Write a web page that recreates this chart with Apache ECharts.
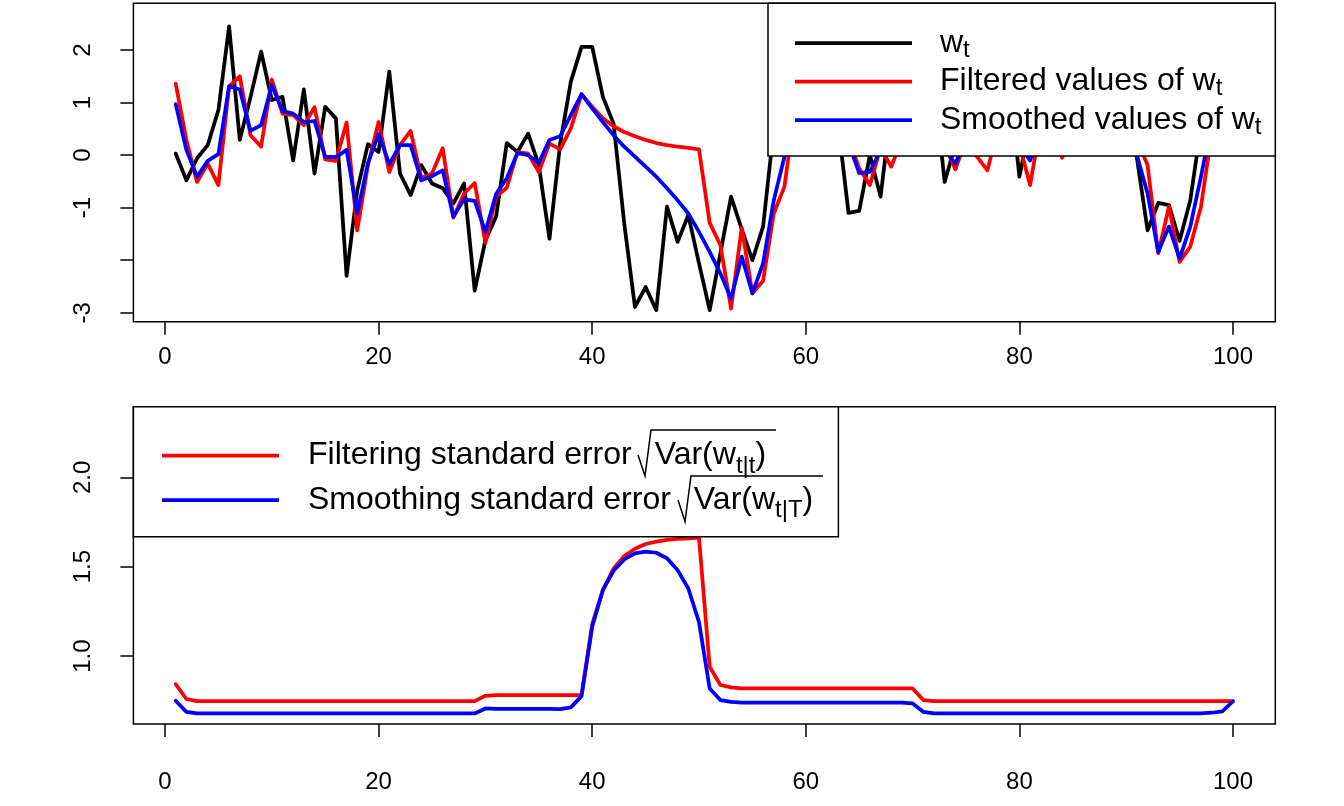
<!DOCTYPE html>
<html>
<head>
<meta charset="utf-8">
<script src="https://cdn.jsdelivr.net/npm/echarts@6/dist/echarts.min.js"></script>
<style>
html,body{margin:0;padding:0;background:#fff;}
#c{width:1344px;height:806px;}
</style>
</head>
<body>
<div id="c"></div>
<script>
// ---------- data ----------
const wt = [0.03,-0.48,-0.06,0.19,0.86,2.45,0.29,1.10,1.97,1.05,
  1.11,-0.10,1.25,-0.35,0.92,0.70,-2.30,-0.67,0.21,0.06,
  1.59,-0.35,-0.76,-0.19,-0.54,-0.63,-0.92,-0.54,-2.58,-1.62,
  -1.17,0.23,0.06,0.41,-0.19,-1.59,0.22,1.40,2.06,2.06,
  1.11,0.60,-1.30,-2.89,-2.51,-2.95,-0.98,-1.65,-1.14,-2.06,
  -2.95,-1.87,-0.79,-1.41,-2.00,-1.36,0.50,1.20,0.90,1.60,
  0.80,1.30,0.63,-1.10,-1.06,0.00,-0.79,0.90,0.40,1.10,
  0.60,1.40,-0.51,0.20,0.90,0.50,1.20,0.70,1.50,-0.41,
  0.60,1.00,0.40,0.10,1.30,0.70,2.65,1.10,0.80,0.50,
  -0.05,-1.43,-0.91,-0.95,-1.63,-0.86,0.54,1.20,0.60,1.40];
const filtered = [1.36,0.29,-0.51,-0.16,-0.57,1.31,1.50,0.38,0.16,1.44,
  0.79,0.76,0.57,0.91,-0.08,-0.11,0.62,-1.43,-0.19,0.63,
  -0.32,0.19,0.46,-0.44,-0.35,0.13,-1.19,-0.73,-0.53,-1.67,
  -0.79,-0.62,0.06,0.03,-0.32,0.22,0.11,0.51,1.16,0.92,
  0.70,0.55,0.44,0.36,0.29,0.23,0.19,0.16,0.14,0.11,
  -1.29,-1.71,-2.92,-1.38,-2.63,-2.39,-1.11,-0.60,0.90,1.20,
  0.90,1.10,0.70,0.33,-0.25,-0.57,0.14,-0.22,0.30,0.80,
  0.60,1.00,0.20,-0.27,0.30,-0.02,-0.29,0.50,0.90,0.20,
  -0.57,0.60,0.80,-0.05,0.50,1.00,0.80,1.80,0.90,0.70,
  0.30,-0.19,-1.87,-0.98,-2.03,-1.74,-0.98,0.41,0.90,0.70];
const smoothed = [0.97,0.10,-0.41,-0.11,0.02,1.31,1.25,0.46,0.57,1.33,
  0.84,0.79,0.63,0.65,-0.03,-0.04,0.10,-1.11,-0.15,0.40,
  -0.17,0.19,0.19,-0.48,-0.40,-0.29,-1.17,-0.84,-0.87,-1.46,
  -0.74,-0.44,0.04,0.00,-0.15,0.29,0.36,0.76,1.16,0.89,
  0.63,0.38,0.16,-0.03,-0.22,-0.41,-0.63,-0.86,-1.11,-1.46,
  -1.84,-2.25,-2.73,-1.93,-2.63,-2.06,-0.86,-0.03,0.60,0.90,
  0.90,0.80,0.60,0.23,-0.34,-0.32,0.10,0.20,0.40,0.70,
  0.70,0.60,0.10,-0.16,0.30,0.40,0.30,0.60,0.50,0.20,
  -0.10,0.50,0.50,0.30,0.60,0.90,1.20,1.10,0.80,0.50,
  0.00,-0.73,-1.84,-1.36,-1.97,-1.36,-0.41,0.63,0.80,0.90];
const filtSE = [0.843,0.760,0.748,0.748,0.748,0.748,0.748,0.748,0.748,0.748,
  0.748,0.748,0.748,0.748,0.748,0.748,0.748,0.748,0.748,0.748,
  0.748,0.748,0.748,0.748,0.748,0.748,0.748,0.748,0.748,0.778,
  0.782,0.782,0.782,0.782,0.782,0.782,0.782,0.782,0.782,1.179,
  1.369,1.490,1.560,1.600,1.627,1.640,1.650,1.655,1.659,1.662,
  0.940,0.838,0.825,0.819,0.819,0.819,0.819,0.819,0.819,0.819,
  0.819,0.819,0.819,0.819,0.819,0.819,0.819,0.819,0.819,0.819,
  0.754,0.748,0.748,0.748,0.748,0.748,0.748,0.748,0.748,0.748,
  0.748,0.748,0.748,0.748,0.748,0.748,0.748,0.748,0.748,0.748,
  0.748,0.748,0.748,0.748,0.748,0.748,0.748,0.748,0.748,0.748];
const smoothSE = [0.750,0.688,0.679,0.679,0.679,0.679,0.679,0.679,0.679,0.679,
  0.679,0.679,0.679,0.679,0.679,0.679,0.679,0.679,0.679,0.679,
  0.679,0.679,0.679,0.679,0.679,0.679,0.679,0.679,0.679,0.707,
  0.705,0.705,0.705,0.705,0.705,0.705,0.703,0.713,0.776,1.164,
  1.370,1.477,1.541,1.575,1.584,1.578,1.547,1.480,1.378,1.190,
  0.819,0.754,0.744,0.740,0.740,0.740,0.740,0.740,0.740,0.740,
  0.740,0.740,0.740,0.740,0.740,0.740,0.740,0.740,0.740,0.735,
  0.688,0.679,0.679,0.679,0.679,0.679,0.679,0.679,0.679,0.679,
  0.679,0.679,0.679,0.679,0.679,0.679,0.679,0.679,0.679,0.679,
  0.679,0.679,0.679,0.679,0.679,0.679,0.679,0.683,0.690,0.748];
const xTicks = [0,20,40,60,80,100];
const yTicksTop = [-3,-2,-1,0,1,2];
const yLabelsTop = [-3,-1,0,1,2];
const yTicksBottom = [1.0,1.5,2.0];

// ---------- helpers ----------
const FONT = '"Liberation Sans", Arial, Helvetica, sans-serif';
const LW = 3.75;
const pairs = arr => arr.map((v, i) => [i + 1, v]);

function xAxisCfg(gridIndex, margin) {
  return {
    type: 'value', gridIndex, min: -2.96, max: 103.96,
    splitLine: {show: false},
    axisLine: {show: false, onZero: false},
    axisTick: {show: true, length: 13, customValues: xTicks, lineStyle: {color: '#000', width: 1.5}},
    axisLabel: {show: true, customValues: xTicks, margin, color: '#000', fontSize: 24, fontFamily: FONT}
  };
}
function yAxisCfg(gridIndex, min, max, ticks, labels, fmt) {
  return {
    type: 'value', gridIndex, min, max,
    splitLine: {show: false},
    axisLine: {show: false, onZero: false},
    axisTick: {show: true, length: 13, customValues: ticks, lineStyle: {color: '#000', width: 1.5}},
    axisLabel: {show: true, customValues: labels, rotate: 90, margin: 38, color: '#000',
      fontSize: 24, fontFamily: FONT, formatter: fmt}
  };
}
const lineStyle = c => ({color: c, width: LW, cap: 'round', join: 'round'});

const names = {
  w: '{n|w}{s|t}',
  filt: '{n|Filtered values of w}{s|t}',
  smooth: '{n|Smoothed values of w}{s|t}',
  fse: '{n|Filtering standard error}{g| }{n|Var(w}{s|t|t}{n|)}',
  sse: '{n|Smoothing standard error}{g| }{n|Var(w}{s|t|T}{n|)}'
};
function richSet(lh) {
  return {
    n: {fontSize: 32, fontFamily: FONT, color: '#000', lineHeight: lh},
    g: {fontSize: 32, fontFamily: FONT, color: '#000', lineHeight: lh, width: 23},
    s: {fontSize: 24, fontFamily: FONT, color: '#000', lineHeight: 18, verticalAlign: 'bottom'}
  };
}
const black = {stroke: '#000', lineWidth: 1.5, fill: null};

const chart = echarts.init(document.getElementById('c'), null, {renderer: 'canvas'});
chart.setOption({
  animation: false,
  backgroundColor: '#fff',
  grid: [
    {left: 133.4, top: 3.3, width: 1141.9, height: 318.4, show: true, borderColor: '#000', borderWidth: 1.5, backgroundColor: 'transparent'},
    {left: 133.4, top: 406.7, width: 1141.9, height: 317.3, show: true, borderColor: '#000', borderWidth: 1.5, backgroundColor: 'transparent'}
  ],
  xAxis: [xAxisCfg(0, 24), xAxisCfg(1, 46)],
  yAxis: [
    yAxisCfg(0, -3.17, 2.89, yTicksTop, yLabelsTop, v => String(v)),
    yAxisCfg(1, 0.62, 2.395, yTicksBottom, yTicksBottom, v => v.toFixed(1))
  ],
  legend: [
    {data: ['w', 'filt', 'smooth'], orient: 'vertical', left: 795, top: 27, padding: 0,
      itemGap: 3.5, itemWidth: 117, itemHeight: LW, icon: 'rect', z: 10, selectedMode: false,
      formatter: n => names[n],
      textStyle: {fontSize: 32, fontFamily: FONT, color: '#000', padding: [0, 0, 0, 23], rich: richSet(38)}},
    {data: ['fse', 'sse'], orient: 'vertical', left: 162, top: 439.5, padding: 0,
      itemGap: 6, itemWidth: 117, itemHeight: LW, icon: 'rect', z: 10, selectedMode: false,
      formatter: n => names[n],
      textStyle: {fontSize: 32, fontFamily: FONT, color: '#000', padding: [0, 0, 0, 24], rich: richSet(45)}}
  ],
  graphic: [
    {type: 'rect', z: 8, shape: {x: 768, y: 3.3, width: 507.3, height: 152.7},
      style: {fill: '#fff', stroke: '#000', lineWidth: 1.5}},
    {type: 'rect', z: 8, shape: {x: 133.4, y: 406.7, width: 705, height: 130},
      style: {fill: '#fff', stroke: '#000', lineWidth: 1.5}},
    {type: 'polyline', z: 12, shape: {points: [[638, 455], [645, 476], [651, 430], [776, 430]]}, style: black},
    {type: 'polyline', z: 12, shape: {points: [[678, 500], [685, 521.5], [691, 476], [823, 476]]}, style: black}
  ],
  series: [
    {name: 'w', type: 'line', xAxisIndex: 0, yAxisIndex: 0, data: pairs(wt), symbol: 'none', lineStyle: lineStyle('#000000'), color: '#000000'},
    {name: 'filt', type: 'line', xAxisIndex: 0, yAxisIndex: 0, data: pairs(filtered), symbol: 'none', lineStyle: lineStyle('#ff0000'), color: '#ff0000'},
    {name: 'smooth', type: 'line', xAxisIndex: 0, yAxisIndex: 0, data: pairs(smoothed), symbol: 'none', lineStyle: lineStyle('#0000ff'), color: '#0000ff'},
    {name: 'fse', type: 'line', xAxisIndex: 1, yAxisIndex: 1, data: pairs(filtSE), symbol: 'none', lineStyle: lineStyle('#ff0000'), color: '#ff0000'},
    {name: 'sse', type: 'line', xAxisIndex: 1, yAxisIndex: 1, data: pairs(smoothSE), symbol: 'none', lineStyle: lineStyle('#0000ff'), color: '#0000ff'}
  ]
});
</script>
</body>
</html>
